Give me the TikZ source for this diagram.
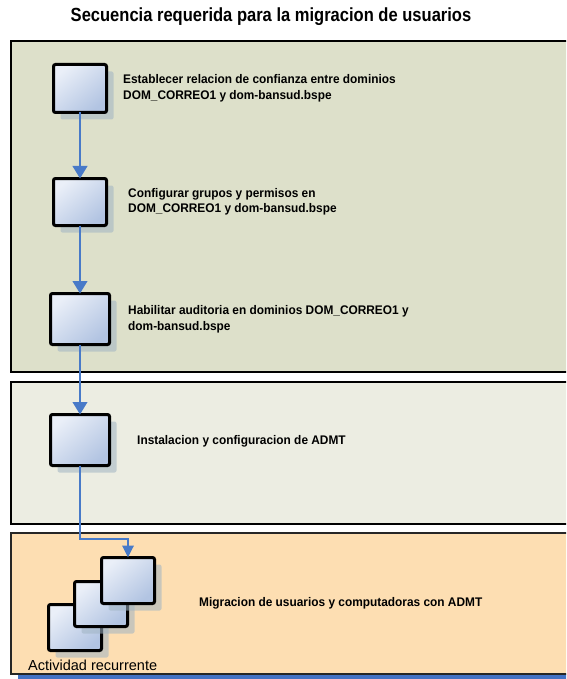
\documentclass[tikz,border=0pt]{standalone}
\usepackage{fontspec}
\setmainfont{Liberation Sans}[FakeStretch=0.95]
\newfontfamily\titlefont{Liberation Sans}[FakeStretch=0.87]
\newfontfamily\plainfont{Liberation Sans}
\usetikzlibrary{shadows,arrows.meta}
\definecolor{pA}{RGB}{221,224,202}
\definecolor{pB}{RGB}{236,237,226}
\definecolor{pC}{RGB}{253,222,178}
\definecolor{boxlight}{RGB}{234,239,248}
\definecolor{boxdark}{RGB}{178,196,226}
\definecolor{shc}{RGB}{160,180,195}
\definecolor{flowc}{RGB}{72,122,200}
\definecolor{barc}{RGB}{68,114,196}
\tikzset{
  act/.style={draw=black, line width=3pt, rounded corners=2pt, inner sep=0pt, outer sep=0pt,
    top color=boxlight, bottom color=boxdark, shading angle=40,
    drop shadow={shadow xshift=7pt, shadow yshift=-7pt, fill=shc, opacity=0.55}},
  lbl/.style={anchor=west, align=left, inner sep=0pt, font=\bfseries\fontsize{12.5}{15.5}\selectfont},
  flow/.style={draw=flowc, line width=2.4pt, -{Triangle[width=14.5pt,length=12.5pt]}},
  panel/.style={draw=black}
}
\begin{document}
\begin{tikzpicture}[x=1pt,y=-1pt]
\useasboundingbox (0,0) rectangle (566,679);
\clip (0,0) rectangle (566,679);
\fill[white] (0,0) rectangle (566,679);
% panels
\draw[panel, fill=pA, line width=2.5pt] (11,41) rectangle (600,372);
\draw[panel, fill=pB, line width=2pt] (11,382) rectangle (600,524);
\fill[barc] (18,674) rectangle (600,679);
\draw[panel, fill=pC, line width=1.6pt, draw=black!85] (11,533) rectangle (600,674);
% title
\node (title) at (271,17) {\titlefont\bfseries\fontsize{19}{21}\selectfont Secuencia requerida para la migracion de usuarios};
% activity boxes
\node[act, minimum width=53pt, minimum height=48pt] (b1) at (80,88.5) {};
\node[act, minimum width=53pt, minimum height=47pt] (b2) at (80,202) {};
\node[act, minimum width=59pt, minimum height=51pt] (b3) at (80,319) {};
\node[act, minimum width=59pt, minimum height=51pt] (b4) at (80,440) {};
\node[act, minimum width=53pt, minimum height=46pt] (s1) at (75,627.5) {};
\node[act, minimum width=53pt, minimum height=45pt] (s2) at (101,604) {};
\node[act, minimum width=53pt, minimum height=46pt] (s3) at (128,580.5) {};
% labels
\node[lbl] (t1) at (123,88.5) {Establecer relacion de confianza entre dominios\\DOM\_CORREO1 y dom-bansud.bspe};
\node[lbl] (t2) at (128,202) {Configurar grupos y permisos en\\DOM\_CORREO1 y dom-bansud.bspe};
\node[lbl] (t3) at (128,319.5) {Habilitar auditoria en dominios DOM\_CORREO1 y\\dom-bansud.bspe};
\node[lbl] (t4) at (137,441) {Instalacion y configuracion de ADMT};
\node[lbl] (t5) at (199,603) {Migracion de usuarios y computadoras con ADMT};
\node[anchor=west, inner sep=0pt, font=\plainfont\fontsize{14.5}{16}\selectfont] (rec) at (28,665.5) {Actividad recurrente};
% connectors
\draw[flow] (b1.south) -- (b2.north);
\draw[flow] (b2.south) -- (b3.north);
\draw[flow] (b3.south) -- (b4.north);
\coordinate (bend) at (80,539);
\draw[flow, line width=1.8pt, -{Triangle[width=11.5pt,length=12pt]}] (b4.south) -- (bend) -| (s3.north);
\end{tikzpicture}
\end{document}
